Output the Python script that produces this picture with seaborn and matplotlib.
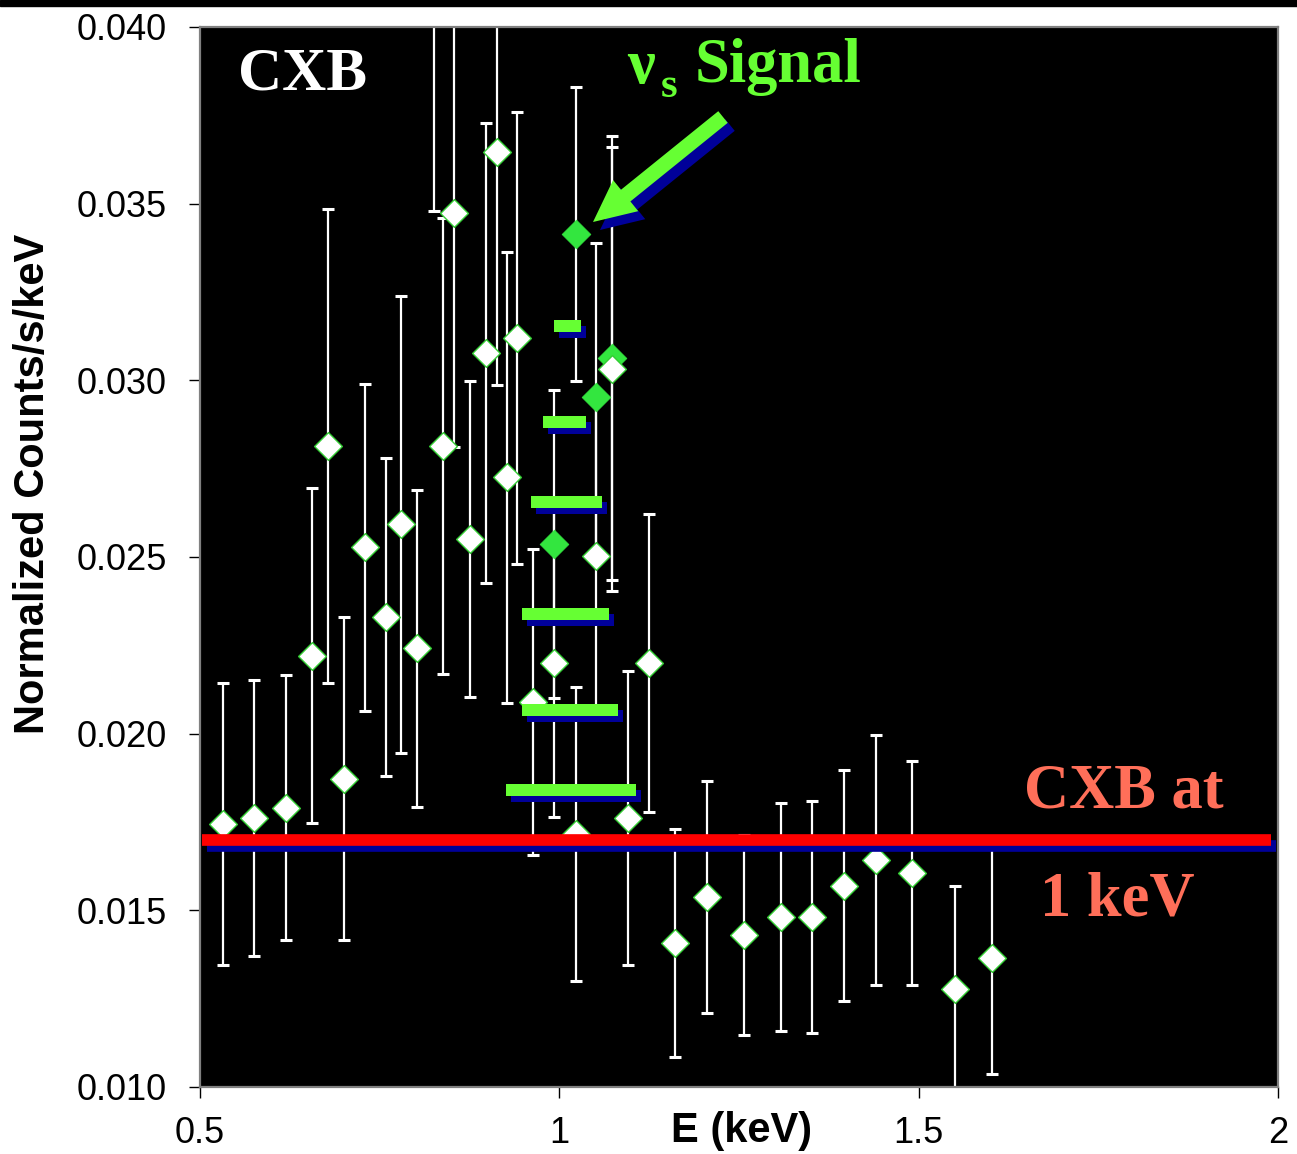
import matplotlib
matplotlib.use("Agg")
import matplotlib.pyplot as plt
import seaborn as sns
from matplotlib.transforms import ScaledTranslation, IdentityTransform
from matplotlib.patches import FancyArrow, Rectangle

# Spectrum bins (keV) and normalized counts with 1-sigma errors
energy = [0.532, 0.575, 0.620, 0.656, 0.678, 0.700, 0.730, 0.759, 0.780, 0.802,
          0.826, 0.838, 0.853, 0.876, 0.898, 0.913, 0.927, 0.941, 0.963, 0.993,
          1.023, 1.051, 1.073, 1.096, 1.125, 1.161, 1.206, 1.257, 1.308, 1.352,
          1.396, 1.441, 1.491, 1.551, 1.602]
counts = [0.01744, 0.01761, 0.01790, 0.02220, 0.02814, 0.01872, 0.02528, 0.02330, 0.02593, 0.02242,
          0.04200, 0.02814, 0.03474, 0.02551, 0.03077, 0.03646, 0.02726, 0.03120, 0.02090, 0.02200,
          0.01716, 0.02503, 0.03032, 0.01761, 0.02200, 0.01408, 0.01538, 0.01430, 0.01481, 0.01481,
          0.01569, 0.01642, 0.01606, 0.01277, 0.01365]
errors = [0.00399, 0.00391, 0.00375, 0.00474, 0.00671, 0.00457, 0.00463, 0.00450, 0.00647, 0.00449,
          0.00720, 0.00645, 0.00662, 0.00446, 0.00651, 0.00659, 0.00638, 0.00640, 0.00433, 0.00436,
          0.00415, 0.00436, 0.00628, 0.00417, 0.00423, 0.00323, 0.00328, 0.00283, 0.00323, 0.00328,
          0.00327, 0.00354, 0.00316, 0.00292, 0.00328]

# Sterile-neutrino line signal added on top of the background
signal_energy = [0.993, 1.023, 1.051, 1.073]
signal_counts = [0.02537, 0.03414, 0.02953, 0.03063]
signal_errors = [0.00436, 0.00415, 0.00436, 0.00628]

# Line profile drawn as stacked horizontal bars (level, left edge, right edge in keV)
line_levels = [0.03154, 0.02882, 0.02656, 0.02339, 0.02067, 0.01841]
line_left = [0.9926, 0.9773, 0.9606, 0.9480, 0.9480, 0.9258]
line_right = [1.0302, 1.0371, 1.0594, 1.0691, 1.0816, 1.1067]

# Cosmic X-ray background level at 1 keV
cxb_level = 0.0170

x_ticks = [0.5, 1.0, 1.5, 2.0]
x_ticklabels = ["0.5", "1", "1.5", "2"]
y_ticks = [0.010, 0.015, 0.020, 0.025, 0.030, 0.035, 0.040]

GREEN = "#66FF33"
NAVY = "#000099"
SALMON = "#FF6F59"

sns.set_theme(style="ticks")
plt.rcParams["font.family"] = ["Liberation Sans", "DejaVu Sans"]

W, H = 1297, 1154
fig = plt.figure(figsize=(W / 100, H / 100), dpi=100)
ax = fig.add_axes([200 / W, 1 - 1087 / H, 1078 / W, 1060 / H])
ax.set_facecolor("black")

shadow_off = ScaledTranslation(5 / 100, -6 / 100, fig.dpi_scale_trans)

# error bars
ax.errorbar(energy, counts, yerr=errors, fmt="none", ecolor="white",
            elinewidth=1.6, capsize=4.3, capthick=2.2, zorder=2)
ax.errorbar(signal_energy, signal_counts, yerr=signal_errors, fmt="none",
            ecolor="white", elinewidth=1.6, capsize=4.3, capthick=2.2, zorder=2)

# data points
sns.scatterplot(x=signal_energy, y=signal_counts, marker="D", s=215,
                color="#33E63F", edgecolor="#33E63F", linewidth=0.5,
                zorder=3, ax=ax)
sns.scatterplot(x=energy, y=counts, marker="D", s=200, color="white",
                edgecolor="#33CC33", linewidth=1.0, zorder=3.5, ax=ax)

# line profile bars with drop shadow
bar_h = 12 * 0.030 / 1060
widths = [r - l for l, r in zip(line_left, line_right)]
shadow = ax.barh(line_levels, widths, left=line_left, height=bar_h,
                 color=NAVY, linewidth=0, zorder=4)
for p in shadow:
    p.set_transform(ax.transData + shadow_off)
ax.barh(line_levels, widths, left=line_left, height=bar_h,
        color=GREEN, linewidth=0, zorder=4.5)

# CXB level line with drop shadow
cxb_sh = ax.axhline(cxb_level, xmin=0.002, xmax=0.9935, color=NAVY, lw=8.4,
                    solid_capstyle="butt", zorder=5.5)
cxb_sh.set_transform(cxb_sh.get_transform() + shadow_off)
ax.axhline(cxb_level, xmin=0.002, xmax=0.9935, color="#FF0000", lw=8.4,
           solid_capstyle="butt", zorder=6)

ax.set_xlim(0.5, 2.0)
ax.set_ylim(0.010, 0.040)
ax.set_xticks(x_ticks)
ax.set_xticklabels(x_ticklabels)
ax.set_yticks(y_ticks)
ax.set_yticklabels([f"{v:.3f}" for v in y_ticks])
ax.tick_params(axis="both", direction="out", length=8, width=1,
               color="black", labelsize=26, labelcolor="black")
ax.tick_params(axis="x", pad=13)
ax.tick_params(axis="y", pad=16)
for s in ax.spines.values():
    s.set_color("#808080")
    s.set_linewidth(1.6)
    s.set_visible(True)

ax.set_ylabel("Normalized Counts/s/keV", fontsize=30, fontweight="bold",
              color="black", va="center")
ax.yaxis.set_label_coords(-0.155, 0.569)
ax.set_xlabel("E (keV)", fontsize=30, fontweight="bold", color="black",
              va="center")
ax.xaxis.set_label_coords(0.502, -0.0415)


def fpos(x, y):
    return x / W, 1 - y / H


serif = ["Liberation Serif", "DejaVu Serif"]
fig.text(*fpos(238, 89), "CXB", color="white", fontsize=44, fontweight="bold",
         family=serif, va="baseline", ha="left")
fig.text(*fpos(627, 83), "ν", color=GREEN, fontsize=45, fontweight="bold",
         family=serif, va="baseline", ha="left")
fig.text(*fpos(661, 97), "s", color=GREEN, fontsize=31, fontweight="bold",
         family=serif, va="baseline", ha="left")
fig.text(*fpos(695, 82), "Signal", color=GREEN, fontsize=45, fontweight="bold",
         family=serif, va="baseline", ha="left")
fig.text(*fpos(1024, 807), "CXB at", color=SALMON, fontsize=45,
         fontweight="bold", family=serif, va="baseline", ha="left")
fig.text(*fpos(1040, 916), "1 keV", color=SALMON, fontsize=45,
         fontweight="bold", family=serif, va="baseline", ha="left")

# arrow pointing at the signal peak, with shadow
tail = (723, H - 117)
tip = (593, H - 222)
dx, dy = tip[0] - tail[0], tip[1] - tail[1]
arrow_kw = dict(width=15, head_width=40, head_length=42,
                length_includes_head=True, transform=IdentityTransform(),
                linewidth=0)
fig.add_artist(FancyArrow(tail[0] + 7, tail[1] - 8, dx, dy, color=NAVY,
                          zorder=10, **arrow_kw))
fig.add_artist(FancyArrow(tail[0], tail[1], dx, dy, color=GREEN,
                          zorder=11, **arrow_kw))

# dark band along the top edge
fig.add_artist(Rectangle((0, 1 - 6 / H), 1, 6 / H, transform=fig.transFigure,
                         color="black", zorder=12))

fig.savefig("out.png", dpi=100, facecolor="white")
